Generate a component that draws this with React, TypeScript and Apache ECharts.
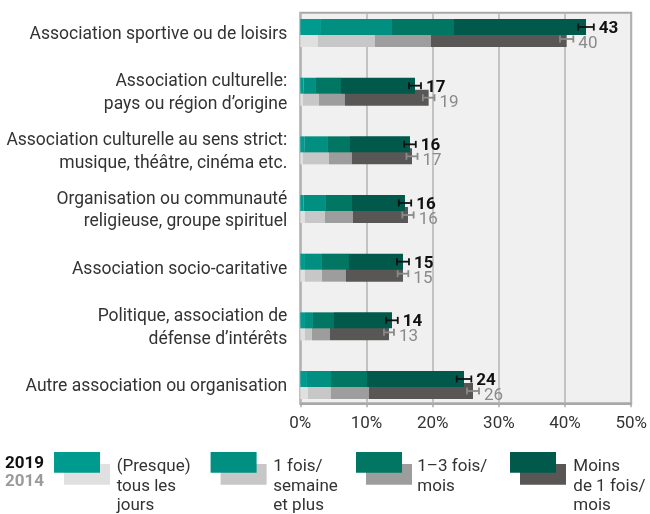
import React, { useEffect, useRef } from "react";
import * as echarts from "echarts";

const categories = [
  "Association sportive ou de loisirs",
  "Association culturelle:\npays ou région d’origine",
  "Association culturelle au sens strict:\nmusique, théâtre, cinéma etc.",
  "Organisation ou communauté\nreligieuse, groupe spirituel",
  "Association socio-caritative",
  "Politique, association de\ndéfense d’intérêts",
  "Autre association ou organisation",
];

const daily2019 = [3.1, 0.5, 0.6, 0.5, 0.7, 0.7, 1.0];
const weekly2019 = [10.65, 1.85, 3.55, 3.35, 2.55, 1.2, 3.6];
const monthly2019 = [9.3, 3.75, 3.3, 3.9, 4.05, 3.15, 5.4];
const less2019 = [19.8, 11.1, 9.0, 7.95, 8.1, 8.7, 14.55];

const daily2014 = [2.65, 0.4, 0.4, 0.7, 0.7, 0.7, 1.15];
const weekly2014 = [8.55, 2.4, 3.9, 3.0, 2.55, 1.05, 3.45];
const monthly2014 = [8.4, 3.9, 3.45, 4.2, 3.6, 2.7, 5.7];
const less2014 = [20.35, 12.55, 9.0, 8.25, 8.55, 8.85, 15.6];

const err2019 = [1.17, 0.9, 0.87, 0.93, 0.9, 0.87, 1.1];
const err2014 = [1.0, 0.87, 0.83, 0.85, 0.8, 0.75, 0.9];

const labels2019 = [43, 17, 16, 16, 15, 14, 24];
const labels2014 = [40, 19, 17, 16, 15, 13, 26];

const xTicks = [0, 10, 20, 30, 40, 50];

const legendLabels = [
  "(Presque)\ntous les\njours",
  "1 fois/\nsemaine\net plus",
  "1–3 fois/\nmois",
  "Moins\nde 1 fois/\nmois",
];
const yearLabels = ["2019", "2014"];

const colors2019 = ["#009b8f", "#008f80", "#007663", "#00594b"];
const colors2014 = ["#dfe0df", "#c6c7c6", "#9d9d9d", "#585756"];

const FONT = "Roboto, 'Noto Sans', sans-serif";

export default function App() {
  const ref = useRef<HTMLDivElement>(null);

  useEffect(() => {
    if (!ref.current) return;
    const chart = echarts.init(ref.current, undefined, { renderer: "svg" });

    const segs2019 = [daily2019, weekly2019, monthly2019, less2019];
    const segs2014 = [daily2014, weekly2014, monthly2014, less2014];
    const totals2019 = categories.map((_, i) => segs2019.reduce((s, a) => s + a[i], 0));
    const totals2014 = categories.map((_, i) => segs2014.reduce((s, a) => s + a[i], 0));

    const barSeries: any[] = [];
    segs2019.forEach((arr, k) => {
      barSeries.push({
        type: "bar",
        name: "2019-" + k,
        stack: "s2019",
        xAxisIndex: 0,
        yAxisIndex: 0,
        data: arr,
        barWidth: 16,
        barGap: "-25%",
        itemStyle: { color: colors2019[k] },
        z: 3,
      });
    });
    segs2014.forEach((arr, k) => {
      barSeries.push({
        type: "bar",
        name: "2014-" + k,
        stack: "s2014",
        xAxisIndex: 0,
        yAxisIndex: 0,
        data: arr,
        barWidth: 16,
        barGap: "-25%",
        itemStyle: { color: colors2014[k] },
        z: 2,
      });
    });

    const makeErr = (
      totals: number[],
      errs: number[],
      labels: number[],
      offset: number,
      textShift: number,
      lineColor: string,
      textColor: string,
      weight: string,
      z: number
    ) => ({
      type: "custom",
      xAxisIndex: 0,
      yAxisIndex: 0,
      clip: false,
      z,
      data: totals.map((t, i) => [t, i, errs[i], labels[i]]),
      renderItem: (params: any, api: any) => {
        const v = api.value(0);
        const idx = api.value(1);
        const e = api.value(2);
        const lab = api.value(3);
        const c = api.coord([v, idx]);
        const y = c[1] + offset;
        const x0 = api.coord([v - e, idx])[0];
        const x1 = api.coord([v + e, idx])[0];
        const ls = { stroke: lineColor, lineWidth: 1.8 };
        return {
          type: "group",
          children: [
            { type: "line", shape: { x1: x0, y1: y, x2: x1, y2: y }, style: ls },
            { type: "line", shape: { x1: x0, y1: y - 3.5, x2: x0, y2: y + 3.5 }, style: ls },
            { type: "line", shape: { x1: x1, y1: y - 3.5, x2: x1, y2: y + 3.5 }, style: ls },
            {
              type: "text",
              x: x1 + 5,
              y: y + textShift,
              style: {
                text: String(lab),
                fill: textColor,
                fontSize: 17,
                fontWeight: weight,
                fontFamily: FONT,
                align: "left",
                verticalAlign: "middle",
              },
            },
          ],
        };
      },
    });

    const legendX = [54, 210.6, 356, 510];
    const legendTextX = [116.7, 273.3, 417.3, 573.3];
    const graphics: any[] = [];
    legendLabels.forEach((lab, i) => {
      graphics.push({
        type: "rect",
        shape: { x: legendX[i] + 10, y: 464, width: 46, height: 20.7 },
        style: { fill: colors2014[i] },
        z: 10,
      });
      graphics.push({
        type: "rect",
        shape: { x: legendX[i], y: 452, width: 46, height: 20.7 },
        style: { fill: colors2019[i] },
        z: 11,
      });
      graphics.push({
        type: "text",
        x: legendTextX[i],
        y: 455.5,
        style: {
          text: lab,
          fill: "#333",
          fontSize: 17,
          fontFamily: FONT,
          lineHeight: 19.5,
          align: "left",
          verticalAlign: "top",
        },
        z: 11,
      });
    });
    graphics.push({
      type: "text",
      x: 5,
      y: 461.5,
      style: {
        text: yearLabels[0],
        fill: "#111",
        fontSize: 17,
        fontWeight: "bold",
        fontFamily: FONT,
        align: "left",
        verticalAlign: "middle",
      },
    });
    graphics.push({
      type: "text",
      x: 5,
      y: 480,
      style: {
        text: yearLabels[1],
        fill: "#9a9a9a",
        fontSize: 17,
        fontWeight: "bold",
        fontFamily: FONT,
        align: "left",
        verticalAlign: "middle",
      },
    });

    const option: any = {
      animation: false,
      grid: [
        { left: 300.3, width: 333.4, top: 3.67, height: 410.67, show: false },
        {
          left: 300.3,
          width: 333.4,
          top: 12.7,
          height: 390.6,
          show: true,
          backgroundColor: "#f0f0f0",
          borderColor: "#a8a8a8",
          borderWidth: 2,
        },
      ],
      xAxis: [
        { gridIndex: 0, type: "value", min: 0, max: 50, show: false },
        {
          gridIndex: 1,
          type: "value",
          min: xTicks[0],
          max: xTicks[xTicks.length - 1],
          interval: xTicks[1] - xTicks[0],
          axisLine: { show: true, lineStyle: { color: "#a8a8a8", width: 2 } },
          axisTick: { show: true, length: 4, lineStyle: { color: "#a8a8a8", width: 1.5 } },
          axisLabel: {
            formatter: "{value}%",
            fontSize: 17,
            color: "#333",
            fontFamily: FONT,
            margin: 10,
          },
          splitLine: { show: true, lineStyle: { color: "#b5b5b5", width: 1.5 } },
        },
      ],
      yAxis: [
        {
          gridIndex: 0,
          type: "category",
          data: categories,
          inverse: true,
          axisLine: { show: false },
          axisTick: { show: false },
          splitLine: { show: false },
          axisLabel: {
            fontSize: 17.5,
            color: "#333",
            lineHeight: 22.5,
            margin: 13,
            fontFamily: FONT,
            align: "right",
          },
        },
        { gridIndex: 1, type: "value", show: false, min: 0, max: 1, splitLine: { show: false } },
      ],
      series: [
        ...barSeries,
        makeErr(totals2019, err2019, labels2019, -6, 0, "#111", "#111", "bold", 6),
        makeErr(totals2014, err2014, labels2014, 6, 3, "#8a8a8a", "#8a8a8a", "normal", 5),
      ],
      graphic: graphics,
    };

    chart.setOption(option);
    return () => chart.dispose();
  }, []);

  return (
    <div
      ref={ref}
      style={{ position: "fixed", left: 0, top: 0, width: 650, height: 514 }}
    />
  );
}
